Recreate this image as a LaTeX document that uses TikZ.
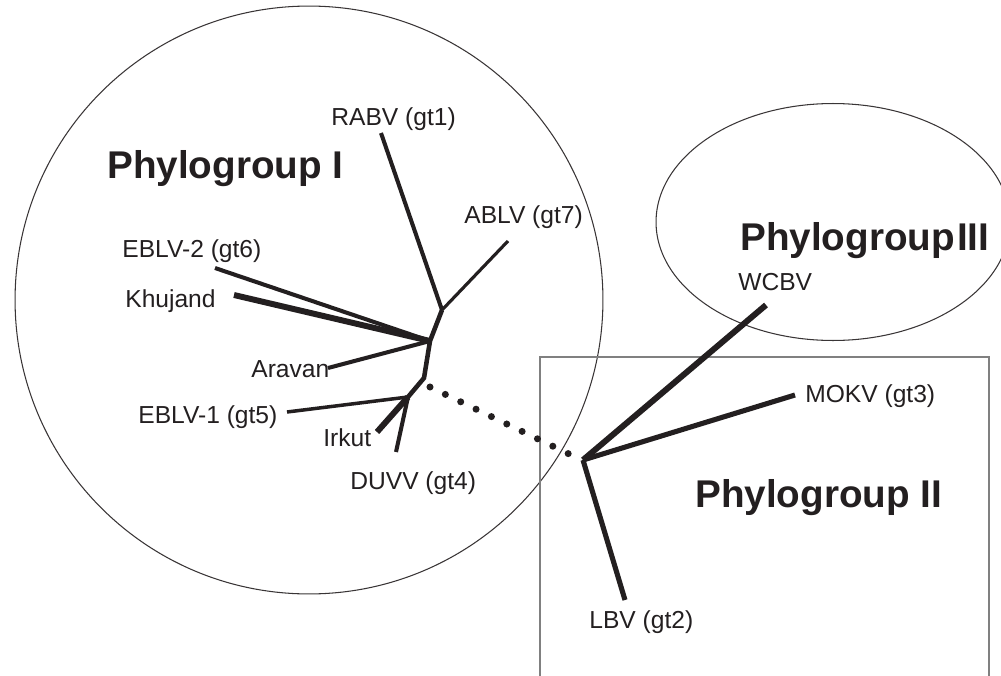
\documentclass[tikz,border=0pt]{standalone}
\usepackage{fontspec}
\setmainfont{Liberation Sans}
\definecolor{ink}{HTML}{231F20}

\begin{document}
\begin{tikzpicture}[x=0.02cm, y=-0.02cm,
    lbl/.style={anchor=base west, inner sep=0pt, text=ink, font=\fontsize{14}{16}\selectfont},
    grp/.style={anchor=base west, inner sep=0pt, text=ink, font=\fontsize{22}{26}\selectfont\bfseries},
    branch/.style={draw=ink, line width=2.3pt, line join=miter},
    outline/.style={draw=ink!90, line width=0.6pt}]
    \useasboundingbox (0,0) rectangle (1001,676);

    % group outlines
    \draw[outline] (309,300) circle [radius=5.88cm];
    \draw[outline] (833,222) ellipse [x radius=3.54cm, y radius=2.37cm];
    \draw[draw=gray, line width=0.6pt] (540,700) |- (989,357) -- (989,700);

    % inner vertices of the tree
    \coordinate (j1) at (442,310);
    \coordinate (ja) at (430,341);
    \coordinate (jb) at (424,378);
    \coordinate (jc) at (408,397);
    \coordinate (root2) at (583,460);
    \coordinate (dotsA) at (430,387);
    \coordinate (dotsB) at (569,454);

    % tips
    \coordinate (rabv) at (381,133);
    \coordinate (ablv) at (508,241);
    \coordinate (eblvtwo) at (215,268);
    \coordinate (khuj) at (234,295);
    \coordinate (arav) at (328,368);
    \coordinate (eblvone) at (287,412);
    \coordinate (irk) at (377,432);
    \coordinate (duvv) at (396,452);
    \coordinate (wcbv) at (766,305);
    \coordinate (mokv) at (795,395);
    \coordinate (lbv) at (625,600);

    % phylogroup I
    \draw[branch] (rabv) -- (j1);
    \draw[branch, line width=1.8pt] (ablv) -- (j1);
    \draw[branch, line width=2.6pt] (j1) -- (ja) -- (jb) -- (jc);
    \draw[branch] (eblvtwo) -- (ja);
    \draw[branch, line width=3.4pt] (khuj) -- (ja);
    \draw[branch] (arav) -- (ja);
    \draw[branch, line width=2pt] (eblvone) -- (jc);
    \draw[branch, line width=3.4pt] (irk) -- (jc);
    \draw[branch] (duvv) -- (jc);

    % link between the groups
    \draw[draw=ink, line width=4pt, line cap=round, dash pattern=on 0pt off 9.7pt] (dotsA) -- (dotsB);

    % phylogroups II and III
    \draw[branch, line width=3.4pt] (wcbv) -- (root2);
    \draw[branch, line width=2.9pt] (mokv) -- (root2);
    \draw[branch, line width=2.9pt] (lbv) -- (root2);

    % labels
    \node[lbl] (l-rabv) at (331,125) {RABV (gt1)};
    \node[lbl] (l-ablv) at (464,223) {ABLV (gt7)};
    \node[lbl] (l-eblv2) at (122,257) {EBLV-2 (gt6)};
    \node[lbl] (l-khuj) at (125,307) {Khujand};
    \node[lbl] (l-arav) at (251,377) {Aravan};
    \node[lbl] (l-eblv1) at (138,423) {EBLV-1 (gt5)};
    \node[lbl] (l-irk) at (323,446) {Irkut};
    \node[lbl] (l-duvv) at (350,489) {DUVV (gt4)};
    \node[lbl] (l-wcbv) at (738,290) {WCBV};
    \node[lbl] (l-mokv) at (805,402) {MOKV (gt3)};
    \node[lbl] (l-lbv) at (589,628) {LBV (gt2)};

    \node[grp] (pg1) at (107,178) {Phylogroup I};
    \node[grp] (pg2) at (695,507) {Phylogroup II};
    \node[grp] (pg3) at (740,250) {Phylogroup\kern0.05em III};
\end{tikzpicture}
\end{document}
